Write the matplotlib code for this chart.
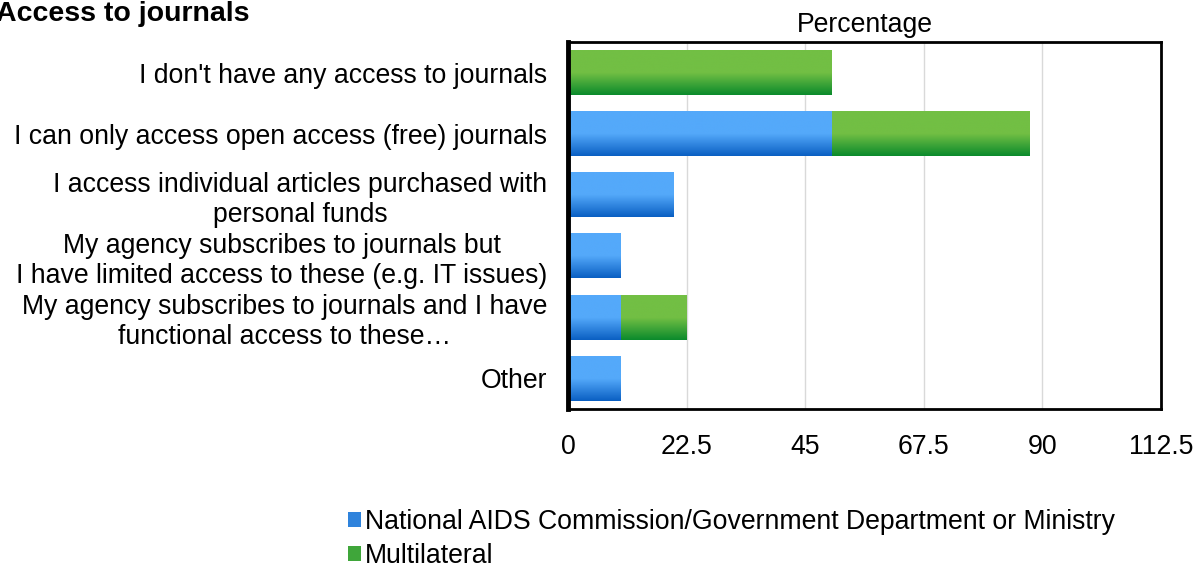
import numpy as np
import matplotlib.pyplot as plt
from matplotlib.colors import LinearSegmentedColormap
from matplotlib.patches import Patch

plt.rcParams['font.family'] = ['Liberation Sans', 'DejaVu Sans']

categories = [
    "I don't have any access to journals",
    "I can only access open access (free) journals",
    "I access individual articles purchased with\npersonal funds",
    "My agency subscribes to journals but\nI have limited access to these (e.g. IT issues)",
    "My agency subscribes to journals and I have\nfunctional access to these\u2026",
    "Other",
]
national = [0, 50, 20, 10, 10, 10]
multilateral = [50, 37.5, 0, 0, 12.5, 0]
series_names = ["National AIDS Commission/Government Department or Ministry", "Multilateral"]
xticks = [0, 22.5, 45, 67.5, 90, 112.5]

blue_cmap = LinearSegmentedColormap.from_list("blue", ["#54a9fa", "#54a9fa", "#0a5fc2"])
green_cmap = LinearSegmentedColormap.from_list("green", ["#72bf44", "#72bf44", "#0a8a2c"])

fig = plt.figure(figsize=(11.98, 5.64), dpi=100)
ax = fig.add_axes([0.4741, 0.2748, 0.4950, 0.6507])

n = len(categories)
ypos = np.arange(n)[::-1]
height = 0.73
grad = np.linspace(0, 1, 256).reshape(-1, 1)


def gradient_bars(ax, y, left, width, cmap):
    for yi, l, w in zip(y, left, width):
        if w <= 0:
            continue
        ax.imshow(grad, cmap=cmap, aspect='auto', origin='upper',
                  extent=[l, l + w, yi - height / 2, yi + height / 2], zorder=2)


gradient_bars(ax, ypos, [0] * n, national, blue_cmap)
gradient_bars(ax, ypos, national, multilateral, green_cmap)

ax.set_xlim(0, 112.5)
ax.set_ylim(-0.5, n - 0.5)
ax.set_xticks(xticks)
ax.set_xticklabels(["0", "22.5", "45", "67.5", "90", "112.5"])
ax.set_yticks(ypos)
ax.set_yticklabels(categories, multialignment='center', linespacing=1.2)
ax.tick_params(axis='both', length=0, labelsize=19.2)
ax.tick_params(axis='y', pad=15)
ax.tick_params(axis='x', pad=18)
ax.grid(axis='x', color='#d9d9d9', linewidth=1, zorder=0)
ax.set_axisbelow(True)
for s in ax.spines.values():
    s.set_color('black')
    s.set_linewidth(2)
ax.spines['left'].set_linewidth(3.5)

fig.text(-0.003, 0.976, "Access to journals", fontsize=20.5, fontweight='bold', va='center', ha='left')
fig.text(0.722, 0.955, "Percentage", fontsize=19.2, ha='center', va='center')

handles = [Patch(facecolor='#2f83dc', edgecolor='none'),
           Patch(facecolor='#3fa63a', edgecolor='none')]
fig.legend(handles, series_names, loc='upper left', bbox_to_anchor=(0.2905, 0.097),
           frameon=False, fontsize=19.2, handlelength=0.5, handleheight=0.5,
           handletextpad=0.15, labelspacing=0.3, borderpad=0, borderaxespad=0)

fig.savefig("out.png", dpi=100)
plt.close(fig)
